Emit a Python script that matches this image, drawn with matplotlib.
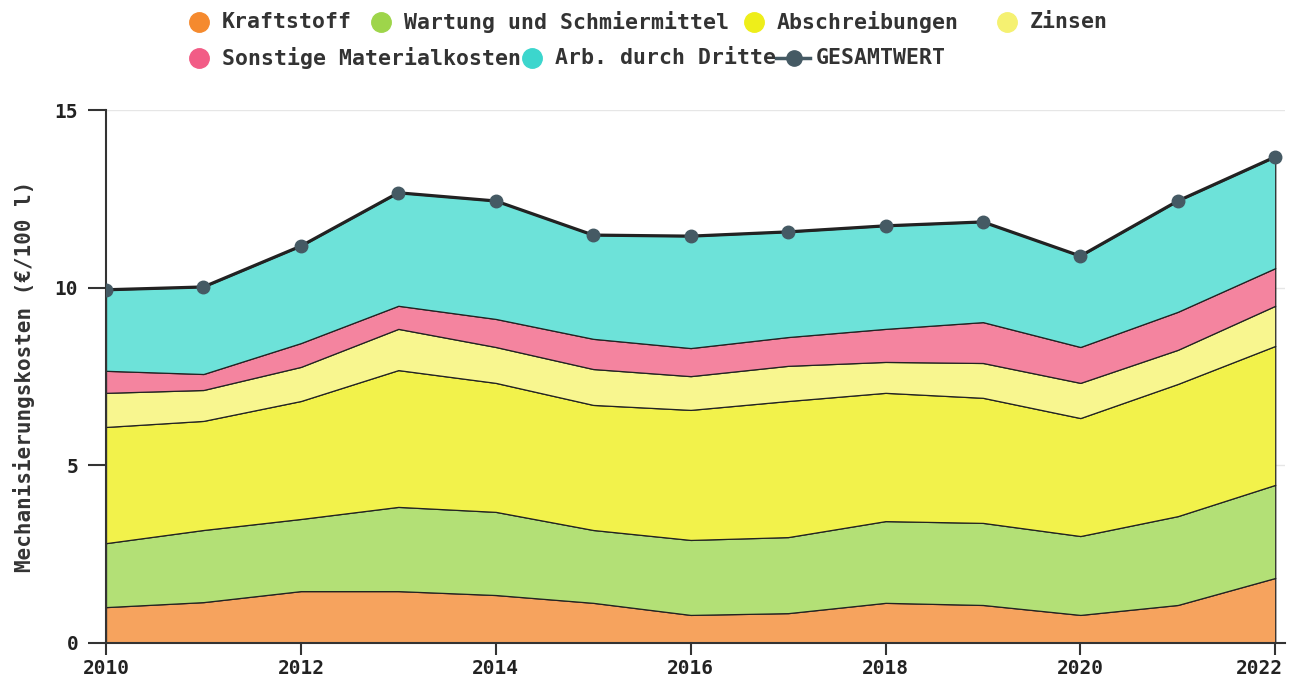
import matplotlib.pyplot as plt
import matplotlib.transforms as mtransforms

years = list(range(2010, 2023))

kraftstoff = [1.01, 1.15, 1.46, 1.46, 1.35, 1.13, 0.79, 0.84, 1.13, 1.07, 0.79, 1.07, 1.83]
wartung = [1.80, 2.03, 2.03, 2.37, 2.34, 2.05, 2.11, 2.14, 2.30, 2.31, 2.22, 2.50, 2.62]
abschreibungen = [3.27, 3.07, 3.32, 3.85, 3.63, 3.52, 3.66, 3.83, 3.61, 3.52, 3.32, 3.72, 3.91]
zinsen = [0.96, 0.87, 0.96, 1.16, 1.01, 1.01, 0.95, 0.99, 0.87, 0.98, 0.99, 0.96, 1.13]
sonstige = [0.62, 0.45, 0.67, 0.65, 0.79, 0.85, 0.79, 0.81, 0.93, 1.15, 1.01, 1.07, 1.06]
arb_dritte = [2.28, 2.45, 2.73, 3.18, 3.32, 2.92, 3.15, 2.96, 2.90, 2.82, 2.56, 3.12, 3.13]
gesamtwert = [9.94, 10.02, 11.17, 12.67, 12.44, 11.48, 11.45, 11.57, 11.74, 11.85, 10.89, 12.44, 13.68]

names = ["Kraftstoff", "Wartung und Schmiermittel", "Abschreibungen", "Zinsen",
         "Sonstige Materialkosten", "Arb. durch Dritte"]
fill_cols = ["#F6A35E", "#B3E076", "#F2F24B", "#F8F68F", "#F4849F", "#6DE2D9"]
dot_cols = ["#F58A2E", "#9ED54A", "#EEEE1A", "#F5F171", "#F25C86", "#3CD6CD"]
line_col = "#455A64"

plt.rcParams["font.family"] = ["DejaVu Sans Mono"]

fig = plt.figure(figsize=(12.94, 6.82), dpi=100)
ax = fig.add_axes([106 / 1294, 39 / 682, 1179 / 1294, 533 / 682])

ax.stackplot(years, kraftstoff, wartung, abschreibungen, zinsen, sonstige, arb_dritte,
             colors=fill_cols, edgecolor="#222222", linewidth=0.9, zorder=2)
ax.plot(years, gesamtwert, color="#222222", lw=2.3, zorder=3)
ax.plot(years, gesamtwert, "o", color=line_col, ms=9, zorder=4)

ax.set_xlim(2010, 2022.1)
ax.set_ylim(0, 15)
ax.set_xticks([2010, 2012, 2014, 2016, 2018, 2020, 2022])
ax.set_yticks([0, 5, 10, 15])
ax.grid(axis="y", color="#e6e6e6", lw=1, zorder=0)
ax.set_axisbelow(True)
for s in ["top", "right"]:
    ax.spines[s].set_visible(False)
for s in ["left", "bottom"]:
    ax.spines[s].set_color("#333333")
    ax.spines[s].set_linewidth(1.5)
ax.tick_params(axis="y", length=13, width=1.5, color="#333333", pad=7)
ax.tick_params(axis="x", length=8.5, width=1.5, color="#333333", pad=3)
for lab in ax.get_xticklabels() + ax.get_yticklabels():
    lab.set_fontsize(14)
    lab.set_fontweight("bold")
    lab.set_color("#222222")
# last year label is pushed inside the figure, like the original
last = ax.get_xticklabels()[-1]
last.set_transform(last.get_transform() + mtransforms.ScaledTranslation(-0.16, 0, fig.dpi_scale_trans))
ax.set_ylabel("Mechanisierungskosten (€/100 l)", fontsize=15, fontweight="bold",
              color="#333333", labelpad=14)

# legend drawn in figure pixel space
lg = fig.add_axes([0, 0, 1, 1], facecolor="none")
lg.set_xlim(0, 1294)
lg.set_ylim(682, 0)
lg.axis("off")
spots = [(199, 22), (381, 22), (754, 22), (1007, 22), (199, 58), (532, 58)]
for (mx, my), nm, c in zip(spots, names, dot_cols):
    lg.plot(mx, my, "o", ms=14, color=c)
    lg.text(mx + 23, my, nm, fontsize=15.5, fontweight="bold", va="center", color="#333333")
lg.plot([776, 810], [58, 58], color=line_col, lw=2.5)
lg.plot(794, 58, "o", ms=11, color=line_col)
lg.text(816, 58, "GESAMTWERT", fontsize=15.5, fontweight="bold", va="center", color="#333333")

fig.savefig("out.png", dpi=100)
